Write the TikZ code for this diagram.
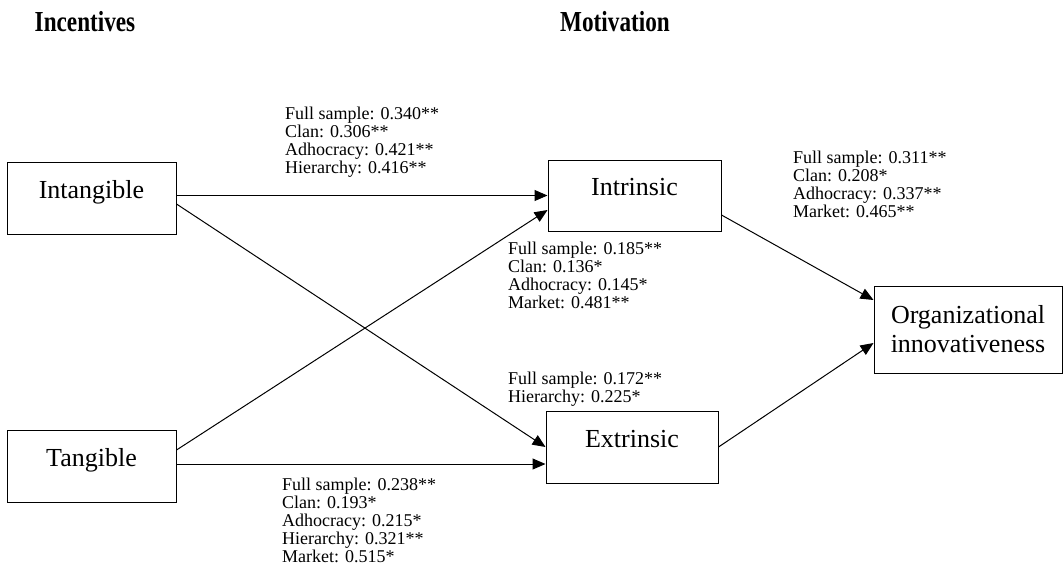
\documentclass[tikz,border=0pt]{standalone}
\usepackage{fontspec}
\setmainfont{Liberation Serif}
\newfontfamily\titlefont{Liberation Serif}[FakeStretch=0.8]
\usetikzlibrary{arrows.meta}
\begin{document}
\begin{tikzpicture}[x=1pt,y=-1pt,
  box/.style={draw, line width=1pt, inner sep=0pt, font=\fontsize{26}{29}\selectfont, text height=10pt, text depth=10pt},
  obox/.style={draw, line width=1pt, inner sep=0pt, font=\fontsize{26}{29}\selectfont, align=center},
  lbl/.style={font=\fontsize{18}{18}\selectfont, align=left, anchor=north west, inner sep=0pt},
  arr/.style={line width=1pt, -{Triangle[length=13pt,width=11pt]}},
  ttl/.style={font=\titlefont\bfseries\fontsize{29}{30}\selectfont, inner sep=0pt}]
\useasboundingbox (0,0) rectangle (1064,579);
\node[ttl] (t1) at (85,22) {Incentives};
\node[ttl] (t2) at (615,22) {Motivation};
\node[box, minimum width=169pt, minimum height=72pt] (intang) at (91.5,198) {Intangible};
\node[box, minimum width=169pt, minimum height=72pt] (tang) at (91.5,466) {Tangible};
\node[box, minimum width=173pt, minimum height=71pt] (intr) at (634.5,195.5) {Intrinsic};
\node[box, minimum width=172pt, minimum height=72pt] (extr) at (632,447) {Extrinsic};
\node[obox, minimum width=188pt, minimum height=87pt] (org) at (968,329.5) {Organizational\\innovativeness};
\draw[arr] (intang.east |- intr.west) -- (intr.west);
\draw[arr] ([yshift=16pt]tang.east) -- ([yshift=-14.5pt]intr.west);
\draw[arr] ([yshift=-6pt]intang.east) -- (extr.west);
\draw[arr] ([yshift=2pt]tang.east) -- ([yshift=-17pt]extr.west);
\draw[arr] ([yshift=-19.5pt]intr.east) -- ([yshift=29.5pt]org.west);
\draw[arr] (extr.east) -- ([yshift=-13.5pt]org.west);
\node[lbl] (l1) at (285,107) {Full sample: 0.340**\\Clan: 0.306**\\Adhocracy: 0.421**\\Hierarchy: 0.416**};
\node[lbl] (l2) at (508,242) {Full sample: 0.185**\\Clan: 0.136*\\Adhocracy: 0.145*\\Market: 0.481**};
\node[lbl] (l3) at (793,151) {Full sample: 0.311**\\Clan: 0.208*\\Adhocracy: 0.337**\\Market: 0.465**};
\node[lbl] (l4) at (508,372) {Full sample: 0.172**\\Hierarchy: 0.225*};
\node[lbl] (l5) at (282,478) {Full sample: 0.238**\\Clan: 0.193*\\Adhocracy: 0.215*\\Hierarchy: 0.321**\\Market: 0.515*};
\end{tikzpicture}
\end{document}
